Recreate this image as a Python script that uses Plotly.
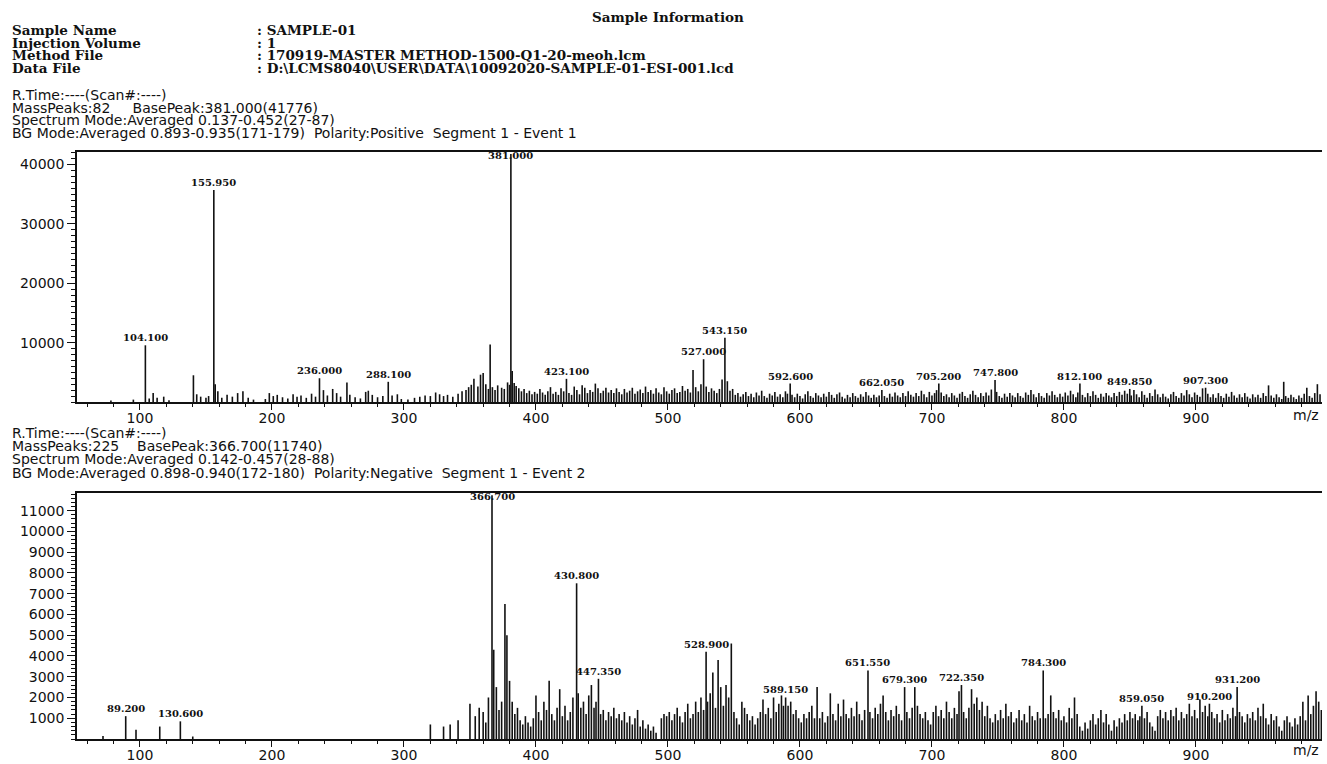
import plotly.graph_objects as go

W, H = 1327, 764

# ---------------- positive-mode spectrum (m/z, intensity) ----------------
TOP_LOW = [
    (78, 250), (95, 400), (104.1, 9550), (107, 600), (110, 1500), (113, 700), (118, 900), (122, 300),
    (140.5, 4500), (143, 1300), (146, 900), (150, 700), (152, 1000), (155.95, 35700), (157, 3000),
    (159, 1800), (162, 700), (166, 1200), (170, 900), (174, 1500), (178, 1800), (182, 700), (186, 400),
    (195, 500), (198, 1500), (201, 1000), (204, 1200), (208, 800), (212, 600), (216, 1300),
    (219, 900), (222, 1100), (226, 700), (230, 1400), (233, 900), (236.0, 4000), (239, 2000),
    (242, 1100), (246, 2200), (249, 1500), (252, 900), (256.8, 3300), (259, 1200), (263, 800),
    (267, 600), (271, 1700), (273, 1900), (276, 1200), (280, 800), (284, 1000), (288.1, 3400),
    (291, 1100), (295, 1300), (298, 500), (303, 400), (308, 700), (312, 900), (316, 1100),
    (320, 1000), (324, 1600), (327, 1300), (330, 1000), (333, 1200), (337, 900),
]
TOP_MID = [
    (341, 1400), (344, 1800), (347, 2000), (349, 2500), (351, 2900), (353, 3900), (356, 2600),
    (358, 4600), (360, 4900), (362, 3000), (364, 2200), (365.3, 9700), (367, 2500), (369, 2000),
    (371, 2800), (374, 2400), (376, 2200), (378.5, 3300), (380, 2900), (381.0, 41776), (382, 5200),
    (383.5, 3200), (385, 2700), (387, 2300), (389, 1800), (391, 2200), (393, 1500), (395, 1900),
    (397, 1300), (399, 1700), (401, 1400), (403, 2200), (405, 1600), (407, 1200), (409, 1800),
    (411, 2500), (413, 1400), (415, 1700), (417, 1200), (419, 2300), (421, 1800), (423.1, 3900),
    (425, 1500), (427, 1200), (429, 2600), (431, 2000), (433, 1300), (435, 2800), (437, 2400),
    (439, 1500), (441, 2000), (443, 1700), (445, 3100), (447, 2300), (449, 1500), (451, 1900),
    (453, 2400), (455, 1600), (457, 2000), (459, 1500), (461, 2300), (463, 1700), (465, 1300),
    (467, 2200), (469, 1600), (471, 1900), (473, 2400), (475, 1400), (477, 1800), (479, 2100),
    (481, 1500), (483, 2600), (485, 1700), (487, 2000), (489, 1400), (491, 2300), (493, 1600),
    (495, 1300), (497, 2500), (499, 1800), (501, 1400), (503, 2000), (505, 2300), (507, 1500),
    (509, 1700), (511, 2700), (513, 1900), (515, 2200), (517, 1600), (519, 5400), (521, 2500),
    (523, 1800), (525, 3000), (527.0, 7200), (529, 2600), (531, 1700), (533, 2300), (535, 1900),
    (537, 1500), (539, 2200), (541, 3800), (543.15, 10800), (545, 3500), (547, 1900), (549, 2200),
]
TOP_HIGH = [
    (551, 1200), (553, 1500), (555, 900), (557, 1300), (559, 1700), (561, 1000), (563, 1400),
    (565, 800), (567, 1600), (569, 1100), (571, 1900), (573, 1000), (575, 700), (577, 1400),
    (579, 1100), (581, 1700), (583, 900), (585, 1300), (587, 800), (589, 1800), (590.5, 1400),
    (592.6, 3100), (594, 1200), (596, 800), (598, 1400), (600, 1000), (602, 600), (604, 1300),
    (606, 1800), (608, 1000), (610, 700), (612, 1500), (614, 1100), (616, 800), (618, 1400),
    (620, 900), (622, 1700), (624, 1200), (626, 700), (628, 1300), (630, 1600), (632, 900),
    (634, 600), (636, 1200), (638, 800), (640, 1500), (642, 1000), (644, 700), (646, 1300),
    (648, 900), (650, 1700), (652, 1100), (654, 700), (656, 1200), (658, 800), (660, 1100),
    (662.05, 2000), (664, 1000), (666, 700), (668, 1400), (670, 900), (672, 1600), (674, 1100),
    (676, 800), (678, 1500), (680, 1000), (682, 1800), (684, 1200), (686, 900), (688, 1500),
    (690, 1000), (692, 1900), (694, 1300), (696, 800), (698, 1700), (700, 1100), (702, 1500),
    (703.5, 2000), (705.2, 3100), (707, 1600), (709, 1000), (711, 1300), (713, 800), (715, 1500),
    (717, 1100), (719, 700), (721, 1400), (723, 1700), (725, 1000), (727, 700), (729, 1300),
    (731, 1900), (733, 1200), (735, 800), (737, 1500), (739, 1000), (741, 1600), (743, 1100),
    (745, 2100), (747.8, 3700), (749, 1700), (751, 1000), (753, 700), (755, 1400), (757, 900),
    (759, 1500), (761, 1100), (763, 800), (765, 1500), (767, 1000), (769, 700), (771, 1600),
    (773, 1200), (775, 2000), (777, 1300), (779, 800), (781, 1500), (783, 1000), (785, 700),
    (787, 1500), (789, 1100), (791, 1800), (793, 1200), (795, 800), (797, 1400), (799, 900),
    (801, 1600), (803, 1100), (805, 1900), (807, 1300), (809, 800), (810.5, 1600), (812.1, 3100),
    (814, 1200), (816, 800), (818, 1500), (820, 1000), (822, 1800), (824, 1200), (826, 700),
    (828, 1400), (830, 900), (832, 1500), (834, 1100), (836, 800), (838, 1500), (840, 1000),
    (842, 1700), (844, 1200), (846, 1900), (848, 1400), (849.85, 2200), (851, 1100), (853, 2000),
    (855, 1300), (857, 800), (859, 1800), (861, 1200), (863, 700), (865, 1500), (867, 1000),
    (869, 2100), (871, 1300), (873, 800), (875, 1400), (877, 900), (879, 600), (881, 1300),
    (883, 1700), (885, 1000), (887, 700), (889, 1500), (891, 1100), (893, 2000), (895, 1300),
    (897, 800), (899, 1600), (901, 1200), (903, 900), (905, 2300), (907.3, 2400), (909, 1400),
    (911, 800), (913, 1300), (915, 700), (917, 1500), (919, 1000), (921, 700), (923, 1400),
    (925, 900), (927, 1700), (929, 1100), (931, 700), (933, 1300), (935, 800), (937, 1500),
    (939, 900), (941, 600), (943, 1300), (945, 800), (947, 1200), (949, 700), (951, 1500),
    (953, 1000), (955, 2800), (957, 1100), (959, 700), (961, 1300), (963, 800), (965, 500),
    (966.5, 3400), (968, 1000), (970, 700), (972, 1200), (974, 800), (976, 500), (978, 1100),
    (980, 700), (982, 1400), (984, 2400), (986, 1000), (988, 700), (990, 1500), (992, 3000),
    (994, 1300),
]
TOP_LABELS = [104.1, 155.95, 236.0, 288.1, 381.0, 423.1, 527.0, 543.15, 592.6,
              662.05, 705.2, 747.8, 812.1, 849.85, 907.3]

# ---------------- negative-mode spectrum (m/z, intensity) ----------------
BOT_LOW = [
    (72, 150), (89.2, 1100), (97, 450), (115, 600), (130.6, 850), (140, 120), (320, 700),
    (330, 600), (335, 700), (341, 900),
]
BOT_MID = [
    (350, 1700), (354, 1100), (357, 1500), (360, 1300), (362, 800), (364, 2000), (366.7, 11740),
    (368, 4300), (370, 2500), (372, 1400), (374, 1800), (376.5, 6500), (378, 5000), (380, 2800),
    (382, 1800), (384, 1200), (386, 1500), (388, 900), (390, 700), (392, 1100), (394, 800),
    (396, 600), (398, 1000), (400, 2100), (402, 1300), (404, 900), (406, 1800), (408, 1400),
    (410, 2800), (412, 1200), (414, 900), (416, 1500), (418, 2400), (420, 1100), (422, 1600),
    (424, 900), (426, 1300), (428, 2000), (430.8, 7500), (432, 2200), (434, 1500), (436, 1800),
    (438, 1200), (440, 2100), (442, 2600), (444, 1500), (445.5, 1800), (447.35, 2900), (449, 1200),
    (451, 1400), (453, 900), (455, 1300), (457, 1100), (459, 1500), (461, 1000), (463, 1200),
    (465, 900), (467, 1300), (469, 800), (471, 1100), (473, 700), (475, 1000), (477, 1400),
    (479, 600), (481, 900), (483, 500), (485, 700), (487, 400), (489, 600), (491, 300),
    (495, 1000), (497, 1200), (499, 1100), (501, 1300), (503, 900), (505, 1200), (507, 1500),
    (509, 1100), (511, 800), (513, 1300), (515, 1700), (517, 1000), (519, 1200), (521, 1800),
    (523, 1300), (525, 2000), (527, 1400), (528.9, 4200), (530, 1800), (532, 2200), (534, 3200),
    (536, 1500), (538, 3800), (540, 2500), (542, 1600), (544, 2600), (546, 2000), (548, 4600),
]
BOT_HIGH = [
    (550, 1300), (552, 1000), (554, 700), (556, 1800), (558, 1500), (560, 1200), (562, 900),
    (564, 1100), (566, 700), (568, 1000), (570, 1300), (572, 1900), (574, 1200), (576, 1500),
    (578, 1000), (580, 2000), (582, 1300), (584, 1700), (586, 2100), (587.5, 1600), (589.15, 2000),
    (591, 1600), (593, 1800), (595, 1200), (597, 1400), (599, 1000), (601, 800), (603, 1200),
    (605, 1000), (607, 1300), (609, 1600), (611, 1000), (613, 2500), (615, 1000), (617, 1300),
    (619, 800), (621, 1100), (623, 2200), (625, 1200), (627, 900), (629, 1700), (631, 1100),
    (633, 1900), (635, 1200), (637, 1000), (639, 1500), (641, 1100), (643, 1800), (645, 1200),
    (647, 900), (649, 1400), (651.55, 3300), (653, 1300), (655, 1000), (657, 1500), (659, 1200),
    (661, 1700), (663, 2100), (665, 1300), (667, 900), (669, 1400), (671, 1100), (673, 1600),
    (675, 1200), (677, 900), (679.3, 2500), (681, 1300), (683, 1000), (685, 1500), (687, 2500),
    (689, 1600), (691, 1200), (693, 1000), (695, 1300), (697, 900), (699, 700), (701, 1300),
    (703, 1600), (705, 1100), (707, 1400), (709, 1000), (711, 1800), (713, 1300), (715, 1000),
    (717, 1500), (719, 1200), (720.5, 2300), (722.35, 2600), (724, 1300), (726, 1000), (728, 1500),
    (730, 2400), (732, 1700), (734, 2000), (736, 1400), (738, 1800), (740, 1100), (742, 1600),
    (744, 1000), (746, 800), (748, 1200), (750, 900), (752, 1400), (754, 1000), (756, 1700),
    (758, 1100), (760, 1300), (762, 800), (764, 1000), (766, 1400), (768, 900), (770, 1200),
    (772, 800), (774, 1600), (776, 1100), (778, 900), (780, 1300), (782, 1000), (784.3, 3300),
    (786, 1000), (788, 1200), (790, 2100), (792, 1300), (794, 1000), (796, 1400), (798, 900),
    (800, 1100), (802, 800), (804, 1500), (806, 1000), (808, 2000), (810, 1200), (812, 600),
    (814, 400), (816, 800), (818, 500), (820, 900), (822, 1200), (824, 700), (826, 1000),
    (828, 1400), (830, 800), (832, 1200), (834, 700), (836, 400), (838, 900), (840, 600),
    (842, 1000), (844, 800), (846, 1200), (848, 900), (850, 1300), (852, 1000), (854, 1200),
    (856, 900), (857.5, 1100), (859.05, 1600), (861, 1000), (863, 1300), (865, 800), (867, 600),
    (869, 400), (871, 1100), (873, 1400), (875, 1000), (877, 1300), (879, 900), (881, 1400),
    (883, 1100), (885, 1500), (887, 900), (889, 1300), (891, 1000), (893, 1200), (895, 1700),
    (897, 1100), (899, 1400), (901, 1000), (903, 1900), (905, 1300), (907, 1600), (909, 1100),
    (910.2, 1700), (912, 1300), (914, 1000), (916, 1200), (918, 800), (920, 1400), (922, 900),
    (924, 1200), (926, 1000), (928, 1500), (930, 1100), (931.2, 2500), (933, 1300), (935, 1100),
    (937, 800), (939, 1200), (941, 1000), (943, 1300), (945, 900), (947, 1500), (949, 1100),
    (951, 1700), (953, 1000), (955, 700), (957, 1200), (959, 900), (961, 1100), (963, 600),
    (965, 400), (967, 900), (969, 1100), (971, 800), (973, 600), (975, 1000), (977, 700),
    (979, 1100), (981, 1800), (983, 900), (985, 2100), (987, 1200), (989, 1600), (991, 2300),
    (993, 1800), (995, 1400),
]
BOT_LABELS = [89.2, 130.6, 366.7, 430.8, 447.35, 528.9, 589.15, 651.55, 679.3,
              722.35, 784.3, 859.05, 910.2, 931.2]

X_TICKS = [100, 200, 300, 400, 500, 600, 700, 800, 900]
TOP_Y_TICKS = [10000, 20000, 30000, 40000]
BOT_Y_TICKS = [1000, 2000, 3000, 4000, 5000, 6000, 7000, 8000, 9000, 10000, 11000]

X_RANGE = [52.3, 995.5]
TOP_YMAX = 42100
BOT_YMAX = 11850

SANS = "DejaVu Sans"
SERIF = "DejaVu Serif"
INK = "#111111"


def px_x(p):
    return p / W


def px_y(p):
    return 1 - p / H


def sticks(peaks):
    xs, ys = [], []
    for mz, h in peaks:
        xs += [mz, mz, None]
        ys += [0, h, None]
    return xs, ys


top = TOP_LOW + TOP_MID + TOP_HIGH
bot = BOT_LOW + BOT_MID + BOT_HIGH

fig = go.Figure()
tx, ty = sticks(top)
fig.add_trace(go.Scatter(x=tx, y=ty, mode="lines", line=dict(color=INK, width=1.6),
                         xaxis="x", yaxis="y", hoverinfo="skip", showlegend=False))
bx, by = sticks(bot)
fig.add_trace(go.Scatter(x=bx, y=by, mode="lines", line=dict(color=INK, width=1.6),
                         xaxis="x2", yaxis="y2", hoverinfo="skip", showlegend=False))


def xaxis_cfg(anchor):
    return dict(
        domain=[px_x(77), px_x(1322)], range=X_RANGE, anchor=anchor,
        tickmode="array", tickvals=X_TICKS, ticks="outside", ticklen=6, tickwidth=1.3,
        tickcolor=INK, showline=True, linecolor=INK, linewidth=1.5, mirror=True,
        showgrid=False, zeroline=False, automargin=False, ticklabelstandoff=-4,
        tickfont=dict(family=SANS, size=14, color=INK),
        minor=dict(tickmode="linear", tick0=0, dtick=20, ticks="outside", ticklen=3,
                   tickwidth=1, tickcolor=INK, showgrid=False),
    )


def yaxis_cfg(anchor, base, top_px, ymax, ticks, minor_dt):
    return dict(
        domain=[px_y(base), px_y(top_px)], range=[0, ymax], anchor=anchor,
        tickmode="array", tickvals=ticks, tickformat="d", ticks="outside", ticklen=8,
        tickwidth=1.3, tickcolor=INK, showline=True, linecolor=INK, linewidth=1.5,
        showgrid=False, zeroline=False, automargin=False,
        tickfont=dict(family=SANS, size=14, color=INK),
        minor=dict(tickmode="linear", tick0=0, dtick=minor_dt, ticks="outside", ticklen=4,
                   tickwidth=1, tickcolor=INK, showgrid=False),
    )


fig.update_layout(
    width=W, height=H, autosize=False,
    margin=dict(l=0, r=0, t=0, b=0),
    paper_bgcolor="white", plot_bgcolor="white",
    xaxis=xaxis_cfg("y"),
    yaxis=yaxis_cfg("x", 402, 152, TOP_YMAX, TOP_Y_TICKS, 1000),
    xaxis2=xaxis_cfg("y2"),
    yaxis2=yaxis_cfg("x2", 739, 493, BOT_YMAX, BOT_Y_TICKS, 200),
)

annotations = []


def text(xp, yp, s, family, size, xanchor="left", bold=False):
    annotations.append(dict(
        xref="paper", yref="paper", x=px_x(xp), y=px_y(yp), text=("<b>%s</b>" % s) if bold else s,
        showarrow=False, xanchor=xanchor, yanchor="middle", borderpad=0,
        font=dict(family=family, size=size, color=INK),
    ))


NB = "\u00a0"
# header
text(668, 17, "Sample Information", SERIF, 13.5, "center", True)
rows = [("Sample Name", ": SAMPLE-01"), ("Injection Volume", ": 1"),
        ("Method File", ": 170919-MASTER METHOD-1500-Q1-20-meoh.lcm"),
        ("Data File", ": D:\\LCMS8040\\USER\\DATA\\10092020-SAMPLE-01-ESI-001.lcd")]
for i, (k, v) in enumerate(rows):
    yp = 30 + i * 12.7
    text(11, yp, k, SERIF, 13.5, "left", True)
    text(256, yp, v, SERIF, 13.5, "left", True)

info_top = ["R.Time:----(Scan#:----)",
            "MassPeaks:82" + NB * 5 + "BasePeak:381.000(41776)",
            "Spectrum Mode:Averaged 0.137-0.452(27-87)",
            "BG Mode:Averaged 0.893-0.935(171-179)" + NB * 2 + "Polarity:Positive" + NB * 2 + "Segment 1 - Event 1"]
for i, s in enumerate(info_top):
    text(11, 95 + i * 12.7, s, SANS, 14)

info_bot = ["R.Time:----(Scan#:----)",
            "MassPeaks:225" + NB * 4 + "BasePeak:366.700(11740)",
            "Spectrum Mode:Averaged 0.142-0.457(28-88)",
            "BG Mode:Averaged 0.898-0.940(172-180)" + NB * 2 + "Polarity:Negative" + NB * 2 + "Segment 1 - Event 2"]
for i, s in enumerate(info_bot):
    text(11, 433 + i * 13.2, s, SANS, 14)

text(1306, 415, "m/z", SANS, 14, "center")
text(1306, 750, "m/z", SANS, 14, "center")

# peak labels
top_d = dict(top)
for mz in TOP_LABELS:
    h = min(top_d[mz], TOP_YMAX * 0.955)
    annotations.append(dict(xref="x", yref="y", x=mz, y=h, text="<b>%.3f</b>" % mz,
                            showarrow=False, xanchor="center", yanchor="bottom",
                            font=dict(family=SERIF, size=10, color=INK)))
bot_d = dict(bot)
for mz in BOT_LABELS:
    h = min(bot_d[mz], BOT_YMAX * 0.955)
    annotations.append(dict(xref="x2", yref="y2", x=mz, y=h, text="<b>%.3f</b>" % mz,
                            showarrow=False, xanchor="center", yanchor="bottom",
                            font=dict(family=SERIF, size=10, color=INK)))

fig.update_layout(annotations=annotations)
fig.write_html("out.html", config={"displayModeBar": False},
               post_script="document.body.style.margin='0px';document.body.style.overflow='hidden';")
